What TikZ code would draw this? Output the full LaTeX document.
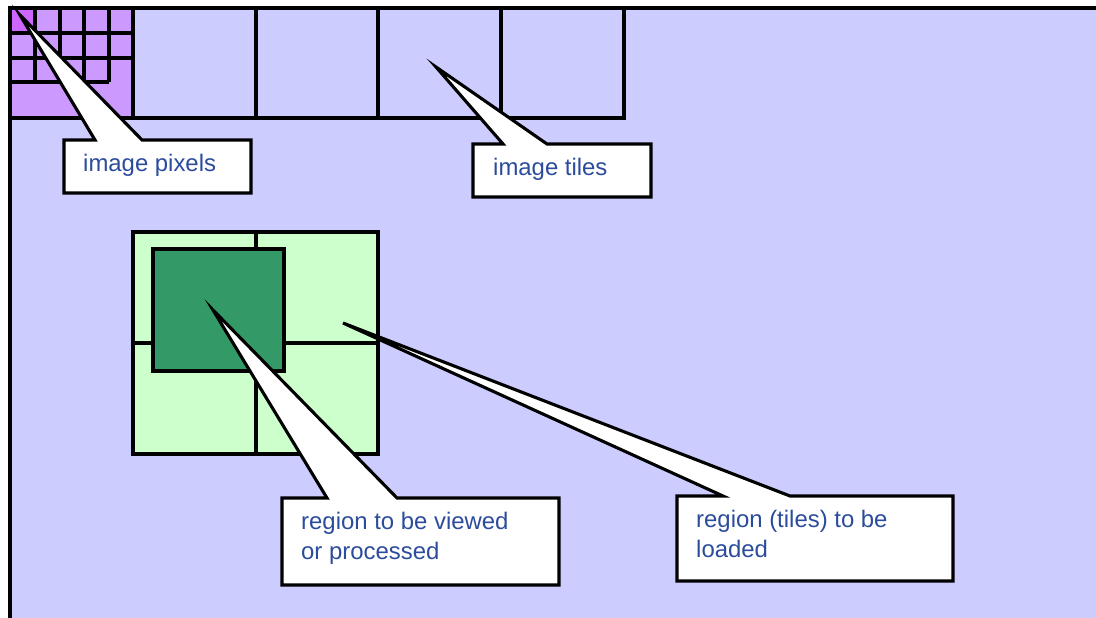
\documentclass[tikz,border=0pt]{standalone}
\usepackage{fontspec}
\setmainfont{Liberation Sans}
\definecolor{bgblue}{HTML}{CCCCFF}
\definecolor{pixpurple}{HTML}{CC99FF}
\definecolor{pixdark}{HTML}{CC66FF}
\definecolor{lightgreen}{HTML}{CCFFCC}
\definecolor{darkgreen}{HTML}{339966}
\definecolor{labelblue}{HTML}{2B4C9C}
\tikzset{
  edge/.style={draw=black, line width=3.1bp, line join=miter},
  callout/.style={draw=black, fill=white, line width=3.1bp, line join=miter, miter limit=20},
  lbl/.style={anchor=base west, inner sep=0pt, text=labelblue, font=\fontsize{24}{30}\selectfont, align=left}
}
\begin{document}
\begin{tikzpicture}[x=1bp,y=-1bp]
\useasboundingbox (0,0) rectangle (1096,618);
% image background
\fill[bgblue] (10,8) rectangle (1096,618);
% pixels in first tile
\fill[pixpurple] (10,8) rectangle (133,118);
\fill[pixdark] (10,8) rectangle (35,33);
\draw[edge] (10,33) -- (133,33);
\draw[edge] (10,58) -- (133,58);
\draw[edge] (10,82) -- (109,82);
\foreach \x in {35,60,84,109} \draw[edge] (\x,8) -- (\x,82);
% tiles
\draw[edge] (10,8) rectangle (624,118);
\foreach \x in {133,256,378,501} \draw[edge] (\x,8) -- (\x,118);
% image border
\draw[line width=3.4bp] (10,618) -- (10,8) -- (1096,8);
% region tiles
\draw[edge, fill=lightgreen] (133,232) rectangle (378,454);
\draw[edge] (256,232) -- (256,454);
\draw[edge] (133,343) -- (378,343);
\draw[edge, fill=darkgreen] (153,249) rectangle (284,371);
% callouts
\draw[callout] (64,140) -- (95,140) -- (20,15) -- (142,140) -- (251,140) -- (251,193) -- (64,193) -- cycle;
\draw[callout] (473,144) -- (503,144) -- (436,67) -- (547,144) -- (651,144) -- (651,197) -- (473,197) -- cycle;
\draw[callout] (282,498) -- (327,498) -- (213,310) -- (397,498) -- (559,498) -- (559,585) -- (282,585) -- cycle;
\draw[callout] (677,496) -- (723,496) -- (343,323) -- (790,496) -- (953,496) -- (953,581) -- (677,581) -- cycle;
% labels
\node[lbl] (pixels) at (83,172) {image pixels};
\node[lbl] (tiles) at (493,176) {image tiles};
\node[lbl] (viewed) at (301,559) {region to be viewed\\or processed};
\node[lbl] (loaded) at (696,557) {region (tiles) to be\\loaded};
\end{tikzpicture}
\end{document}
